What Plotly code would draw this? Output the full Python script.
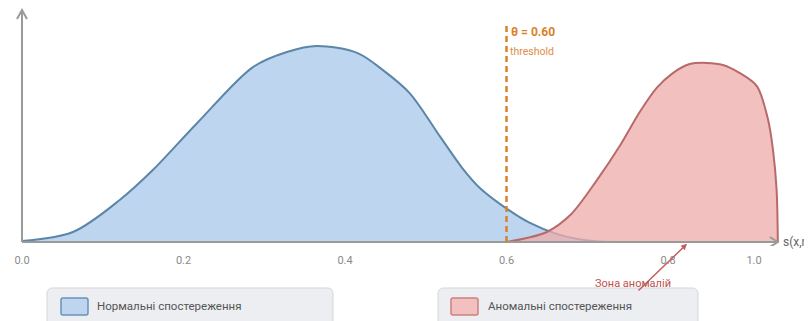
import plotly.graph_objects as go

# ---- data ----
normal_x = [0.0, 0.063, 0.121, 0.162, 0.217, 0.286, 0.328, 0.365, 0.415, 0.447,
            0.480, 0.518, 0.545, 0.567, 0.601, 0.629, 0.663, 0.707, 0.757]
normal_y = [0.004, 0.043, 0.181, 0.310, 0.513, 0.754, 0.819, 0.845, 0.815, 0.741,
            0.642, 0.453, 0.320, 0.233, 0.142, 0.082, 0.034, 0.004, 0.0]

anomal_x = [0.600, 0.625, 0.650, 0.679, 0.712, 0.741, 0.765, 0.786, 0.806, 0.827,
            0.848, 0.868, 0.889, 0.910, 0.924, 0.930, 0.9345, 0.936]
anomal_y = [0.0, 0.017, 0.043, 0.116, 0.267, 0.418, 0.560, 0.664, 0.728, 0.767,
            0.772, 0.763, 0.728, 0.672, 0.526, 0.397, 0.224, 0.0]

threshold = 0.60
tick_vals = [0.0, 0.2, 0.4, 0.6, 0.8, 0.9065]
tick_text = ["0.0", "0.2", "0.4", "0.6", "0.8", "1.0"]
legend_labels = ["Нормальні спостереження", "Аномальні спостереження"]
x_axis_label = "s(x,n)"
zone_label = "Зона аномалій"

FONT = "Roboto, 'Liberation Sans', sans-serif"
W, H = 812, 321
OFF = 8  # page body margin of the html page
# plot area in page pixels: left 12, right 787, top 8, bottom 246
PL, PR, PT, PB = 12, 787, 8, 246
ML, MR, MT, MB = PL - OFF, W - (PR - OFF), PT - OFF, H - (PB - OFF)
X0_PX, XSCALE = 22, 807.5   # page px of x=0, px per unit x
Y0_PX, YSCALE = 242, 232    # page px of y=0, px per unit y
X_END = 0.936

fig = go.Figure()
fig.add_trace(go.Scatter(
    x=normal_x, y=normal_y, mode="lines", line=dict(color="#5b86a8", width=2, shape="spline", smoothing=0.9),
    fill="tozeroy", fillcolor="#bdd5ef", hoverinfo="skip", showlegend=False))
fig.add_trace(go.Scatter(
    x=anomal_x, y=anomal_y, mode="lines", line=dict(color="#b86a6a", width=2, shape="spline", smoothing=0.9),
    fill="tozeroy", fillcolor="rgba(238,172,170,0.75)", hoverinfo="skip", showlegend=False))

shapes = []
axis_col = "#9a9a9a"
shapes.append(dict(type="line", xref="x", yref="y", x0=0, x1=0, y0=0, y1=1.0, line=dict(color=axis_col, width=2)))
shapes.append(dict(type="line", xref="x", yref="y", x0=0, x1=X_END, y0=0, y1=0, line=dict(color=axis_col, width=2)))
shapes.append(dict(type="path", xref="x", yref="y", xsizemode="pixel", ysizemode="pixel", xanchor=0, yanchor=1.0,
                   path="M -5 -9 L 0 0 L 5 -9", line=dict(color=axis_col, width=2)))
shapes.append(dict(type="path", xref="x", yref="y", xsizemode="pixel", ysizemode="pixel", xanchor=X_END, yanchor=0,
                   path="M -8 5 L 0 0 L -8 -5", line=dict(color=axis_col, width=2)))
shapes.append(dict(type="line", xref="x", yref="y", x0=threshold, x1=threshold, y0=0, y1=0.948,
                   line=dict(color="#d9822b", width=2.5, dash="6px,4px")))


def px(xp):
    return (xp - PL) / (PR - PL)


def py(yp):
    return (PB - yp) / (PB - PT)


def rrect(x0, y0, x1, y1, r):
    p = lambda a, b: f"{px(a):.5f},{py(b):.5f}"
    return (f"M {p(x0 + r, y0)} L {p(x1 - r, y0)} Q {p(x1, y0)} {p(x1, y0 + r)} "
            f"L {p(x1, y1 - r)} Q {p(x1, y1)} {p(x1 - r, y1)} L {p(x0 + r, y1)} "
            f"Q {p(x0, y1)} {p(x0, y1 - r)} L {p(x0, y0 + r)} Q {p(x0, y0)} {p(x0 + r, y0)} Z")


shapes.append(dict(type="path", xref="paper", yref="paper", path=rrect(47, 288, 333, 334, 6),
                   fillcolor="#eceef1", line=dict(color="#d3d6db", width=1)))
shapes.append(dict(type="path", xref="paper", yref="paper", path=rrect(438, 288, 698, 334, 6),
                   fillcolor="#eceef1", line=dict(color="#d3d6db", width=1)))
shapes.append(dict(type="path", xref="paper", yref="paper", path=rrect(61, 298, 88, 315, 2),
                   fillcolor="#bdd5ef", line=dict(color="#6a93bb", width=1.5)))
shapes.append(dict(type="path", xref="paper", yref="paper", path=rrect(451, 298, 478, 315, 2),
                   fillcolor="#f2c0bf", line=dict(color="#cf7f7f", width=1.5)))

annotations = [
    dict(x=threshold, y=0.905, xref="x", yref="y", text="<b>θ = 0.60</b>", showarrow=False,
         xanchor="left", yanchor="middle", xshift=2, font=dict(family=FONT, size=12, color="#d9822b")),
    dict(x=threshold, y=0.819, xref="x", yref="y", text="threshold", showarrow=False,
         xanchor="left", yanchor="middle", xshift=1, font=dict(family=FONT, size=10.5, color="#e08d45")),
    dict(x=X_END, y=0, xref="x", yref="y", text=x_axis_label, showarrow=False,
         xanchor="left", yanchor="middle", xshift=3, font=dict(family=FONT, size=12, color="#666666")),
    dict(x=0.8235, y=-0.008, xref="x", yref="y", text="", showarrow=True, ax=-50, ay=48,
         arrowhead=2, arrowsize=0.8, arrowwidth=1.5, arrowcolor="#c0605d"),
    dict(x=px(633), y=py(283), xref="paper", yref="paper", text=zone_label, showarrow=False,
         xanchor="center", yanchor="middle", font=dict(family=FONT, size=11, color="#c0504d")),
    dict(x=px(95), y=py(306), xref="paper", yref="paper", text=legend_labels[0], showarrow=False,
         xanchor="left", yanchor="middle", font=dict(family=FONT, size=11.5, color="#555555")),
    dict(x=px(486), y=py(306), xref="paper", yref="paper", text=legend_labels[1], showarrow=False,
         xanchor="left", yanchor="middle", font=dict(family=FONT, size=11.5, color="#555555")),
]

x_lo = (PL - X0_PX) / XSCALE
x_hi = (PR - X0_PX) / XSCALE
y_hi = (Y0_PX - PT) / YSCALE
y_lo = (Y0_PX - PB) / YSCALE

fig.update_layout(
    width=W, height=H, margin=dict(l=ML, r=MR, t=MT, b=MB, pad=0),
    paper_bgcolor="white", plot_bgcolor="white",
    shapes=shapes, annotations=annotations, showlegend=False,
    xaxis=dict(range=[x_lo, x_hi], tickvals=tick_vals, ticktext=tick_text, showgrid=False, zeroline=False,
               showline=False, ticks="", ticklabelstandoff=6,
               tickfont=dict(family=FONT, size=11, color="#8a8a8a"), fixedrange=True),
    yaxis=dict(range=[y_lo, y_hi], visible=False, fixedrange=True),
    font=dict(family=FONT),
)
fig.write_html("out.html")
